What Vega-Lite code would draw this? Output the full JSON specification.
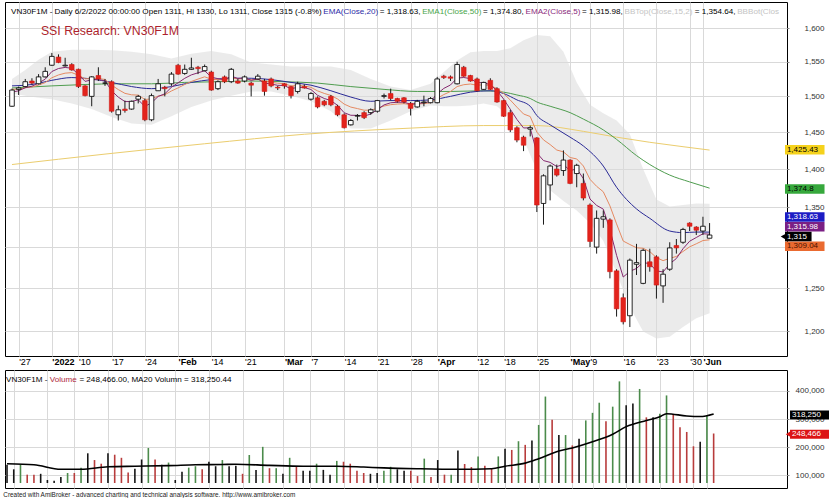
{
"$schema": "https://vega.github.io/schema/vega-lite/v6.json",
"usermeta": {"embedOptions": {"actions": false}},
"background": "#ffffff",
"padding": {"left": 3, "top": 1, "right": 0, "bottom": 0},
"config": {
  "font": "Liberation Sans",
  "view": {"stroke": "#000000", "strokeWidth": 1},
  "axis": {"labelFont": "Liberation Sans", "gridColor": "#d9d9d9", "gridWidth": 1, "labelOverlap": false, "title": null},
  "text": {"font": "Liberation Sans"}
},
"title": {"text": "Created with AmiBroker - advanced charting and technical analysis software. http://www.amibroker.com", "orient": "bottom", "anchor": "start", "fontSize": 6.4, "fontWeight": "normal", "font": "Liberation Sans", "color": "#222222", "offset": 3},
"spacing": 0,
"datasets": {
  "px": [
{"i":-1,"d":"2021-12-24","o":1486,"h":1511,"l":1485,"c":1509,"v":137000,"t":"flat","e5":1506,"e10":1510},
{"i":0,"d":"2021-12-27","o":1510,"h":1514,"l":1502,"c":1512,"v":121000,"t":"flat","e5":1508,"e10":1510.4},
{"i":1,"d":"2021-12-28","o":1514,"h":1525,"l":1513,"c":1521,"v":137000,"t":"up","e5":1512.3,"e10":1512.3},
{"i":2,"d":"2021-12-29","o":1522,"h":1526,"l":1517,"c":1519,"v":102000,"t":"down","e5":1514.6,"e10":1513.5},
{"i":3,"d":"2021-12-30","o":1518,"h":1532,"l":1517,"c":1528,"v":102000,"t":"down","e5":1519.1,"e10":1516.1},
{"i":4,"d":"2021-12-31","o":1528,"h":1542,"l":1527,"c":1536,"v":105000,"t":"flat","e5":1524.7,"e10":1519.7},
{"i":5,"d":"2022-01-04","o":1545,"h":1563,"l":1544,"c":1558,"v":83000,"t":"flat","e5":1535.8,"e10":1526.7},
{"i":6,"d":"2022-01-05","o":1557,"h":1561,"l":1548,"c":1549,"v":80000,"t":"flat","e5":1540.2,"e10":1530.8},
{"i":7,"d":"2022-01-06","o":1544,"h":1556,"l":1543,"c":1545,"v":94000,"t":"flat","e5":1541.8,"e10":1533.4},
{"i":8,"d":"2022-01-07","o":1546,"h":1548,"l":1537,"c":1538,"v":108000,"t":"up","e5":1540.5,"e10":1534.2},
{"i":9,"d":"2022-01-10","o":1539,"h":1540,"l":1512,"c":1514,"v":108000,"t":"down","e5":1531.7,"e10":1530.5},
{"i":10,"d":"2022-01-11","o":1515,"h":1516,"l":1500,"c":1501,"v":127000,"t":"up","e5":1521.5,"e10":1525.1},
{"i":11,"d":"2022-01-12","o":1500,"h":1529,"l":1486,"c":1528,"v":178000,"t":"flat","e5":1523.7,"e10":1525.6},
{"i":12,"d":"2022-01-13","o":1530,"h":1542,"l":1522,"c":1525,"v":154000,"t":"down","e5":1524.1,"e10":1525.5},
{"i":13,"d":"2022-01-14","o":1519,"h":1525,"l":1515,"c":1519,"v":141000,"t":"down","e5":1522.4,"e10":1524.3},
{"i":14,"d":"2022-01-17","o":1521,"h":1523,"l":1477,"c":1479,"v":178000,"t":"flat","e5":1507.9,"e10":1516.1},
{"i":15,"d":"2022-01-18","o":1474,"h":1487,"l":1466,"c":1481,"v":173000,"t":"down","e5":1498.9,"e10":1509.7},
{"i":16,"d":"2022-01-19","o":1482,"h":1494,"l":1477,"c":1480,"v":162000,"t":"down","e5":1492.6,"e10":1504.3},
{"i":17,"d":"2022-01-20","o":1482,"h":1494,"l":1481,"c":1493,"v":110000,"t":"down","e5":1492.7,"e10":1502.2},
{"i":18,"d":"2022-01-21","o":1496,"h":1502,"l":1490,"c":1500,"v":123000,"t":"flat","e5":1495.1,"e10":1501.8},
{"i":19,"d":"2022-01-24","o":1494,"h":1497,"l":1465,"c":1467,"v":156000,"t":"flat","e5":1485.7,"e10":1495.5},
{"i":20,"d":"2022-01-25","o":1467,"h":1504,"l":1465,"c":1501,"v":197000,"t":"up","e5":1490.8,"e10":1496.5},
{"i":21,"d":"2022-01-26","o":1508,"h":1525,"l":1508,"c":1518,"v":156000,"t":"down","e5":1499.9,"e10":1500.4},
{"i":22,"d":"2022-01-27","o":1513,"h":1515,"l":1500,"c":1511,"v":137000,"t":"flat","e5":1503.6,"e10":1502.3},
{"i":23,"d":"2022-01-28","o":1518,"h":1535,"l":1515,"c":1532,"v":145000,"t":"up","e5":1513.1,"e10":1507.7},
{"i":24,"d":"2022-02-07","o":1545,"h":1547,"l":1531,"c":1532,"v":83000,"t":"flat","e5":1519.4,"e10":1512.1},
{"i":25,"d":"2022-02-08","o":1533,"h":1546,"l":1531,"c":1539,"v":112000,"t":"flat","e5":1525.9,"e10":1517},
{"i":26,"d":"2022-02-09","o":1539,"h":1556,"l":1538,"c":1541,"v":127000,"t":"up","e5":1530.9,"e10":1521.4},
{"i":27,"d":"2022-02-10","o":1542,"h":1544,"l":1532,"c":1540,"v":132000,"t":"up","e5":1533.9,"e10":1524.8},
{"i":28,"d":"2022-02-11","o":1537,"h":1546,"l":1536,"c":1543,"v":121000,"t":"down","e5":1536.9,"e10":1528.1},
{"i":29,"d":"2022-02-14","o":1535,"h":1537,"l":1508,"c":1509,"v":148000,"t":"flat","e5":1527.6,"e10":1524.6},
{"i":30,"d":"2022-02-15","o":1511,"h":1523,"l":1509,"c":1521,"v":132000,"t":"flat","e5":1525.4,"e10":1524},
{"i":31,"d":"2022-02-16","o":1528,"h":1530,"l":1519,"c":1521,"v":154000,"t":"up","e5":1523.9,"e10":1523.5},
{"i":32,"d":"2022-02-17","o":1521,"h":1541,"l":1519,"c":1539,"v":132000,"t":"flat","e5":1529,"e10":1526.3},
{"i":33,"d":"2022-02-18","o":1522,"h":1525,"l":1518,"c":1519,"v":134000,"t":"flat","e5":1525.7,"e10":1525},
{"i":34,"d":"2022-02-21","o":1522,"h":1530,"l":1520,"c":1528,"v":105000,"t":"down","e5":1526.5,"e10":1525.5},
{"i":35,"d":"2022-02-22","o":1519,"h":1521,"l":1500,"c":1516,"v":172000,"t":"up","e5":1523,"e10":1523.8},
{"i":36,"d":"2022-02-23","o":1525,"h":1532,"l":1524,"c":1529,"v":119000,"t":"flat","e5":1525,"e10":1524.7},
{"i":37,"d":"2022-02-24","o":1522,"h":1525,"l":1501,"c":1507,"v":201000,"t":"up","e5":1519,"e10":1521.5},
{"i":38,"d":"2022-02-25","o":1525,"h":1527,"l":1513,"c":1515,"v":125000,"t":"down","e5":1517.7,"e10":1520.3},
{"i":39,"d":"2022-02-28","o":1513,"h":1515,"l":1509,"c":1512,"v":125000,"t":"up","e5":1515.8,"e10":1518.8},
{"i":40,"d":"2022-03-01","o":1518,"h":1519,"l":1511,"c":1515,"v":105000,"t":"flat","e5":1515.5,"e10":1518.1},
{"i":41,"d":"2022-03-02","o":1514,"h":1515,"l":1497,"c":1501,"v":162000,"t":"up","e5":1510.7,"e10":1515},
{"i":42,"d":"2022-03-03","o":1507,"h":1521,"l":1504,"c":1518,"v":130000,"t":"down","e5":1513.1,"e10":1515.5},
{"i":43,"d":"2022-03-04","o":1514,"h":1517,"l":1511,"c":1512,"v":116000,"t":"flat","e5":1512.7,"e10":1514.9},
{"i":44,"d":"2022-03-07","o":1496,"h":1506,"l":1494,"c":1504,"v":116000,"t":"flat","e5":1509.8,"e10":1512.9},
{"i":45,"d":"2022-03-08","o":1498,"h":1500,"l":1483,"c":1485,"v":141000,"t":"up","e5":1501.5,"e10":1507.8},
{"i":46,"d":"2022-03-09","o":1493,"h":1495,"l":1486,"c":1488,"v":119000,"t":"flat","e5":1497,"e10":1504.2},
{"i":47,"d":"2022-03-10","o":1500,"h":1502,"l":1486,"c":1488,"v":102000,"t":"flat","e5":1494,"e10":1501.3},
{"i":48,"d":"2022-03-11","o":1486,"h":1488,"l":1472,"c":1474,"v":151000,"t":"up","e5":1487.3,"e10":1496.3},
{"i":49,"d":"2022-03-14","o":1474,"h":1476,"l":1455,"c":1456,"v":148000,"t":"down","e5":1476.9,"e10":1489},
{"i":50,"d":"2022-03-15","o":1460,"h":1468,"l":1459,"c":1466,"v":141000,"t":"down","e5":1473.3,"e10":1484.8},
{"i":51,"d":"2022-03-16","o":1472,"h":1475,"l":1466,"c":1473,"v":116000,"t":"down","e5":1473.2,"e10":1482.7},
{"i":52,"d":"2022-03-17","o":1477,"h":1479,"l":1468,"c":1470,"v":108000,"t":"down","e5":1472.1,"e10":1480.4},
{"i":53,"d":"2022-03-18","o":1477,"h":1483,"l":1474,"c":1481,"v":105000,"t":"flat","e5":1475.1,"e10":1480.5},
{"i":54,"d":"2022-03-21","o":1479,"h":1495,"l":1477,"c":1494,"v":108000,"t":"flat","e5":1481.4,"e10":1483},
{"i":55,"d":"2022-03-22","o":1500,"h":1504,"l":1497,"c":1501,"v":116000,"t":"up","e5":1487.9,"e10":1486.3},
{"i":56,"d":"2022-03-23","o":1504,"h":1511,"l":1494,"c":1497,"v":130000,"t":"up","e5":1490.9,"e10":1488.2},
{"i":57,"d":"2022-03-24","o":1497,"h":1498,"l":1491,"c":1493,"v":121000,"t":"flat","e5":1491.6,"e10":1489.1},
{"i":58,"d":"2022-03-25","o":1498,"h":1499,"l":1490,"c":1492,"v":116000,"t":"flat","e5":1491.7,"e10":1489.6},
{"i":59,"d":"2022-03-28","o":1490,"h":1492,"l":1473,"c":1483,"v":116000,"t":"down","e5":1488.8,"e10":1488.4},
{"i":60,"d":"2022-03-29","o":1485,"h":1495,"l":1484,"c":1493,"v":97000,"t":"down","e5":1490.2,"e10":1489.2},
{"i":61,"d":"2022-03-30","o":1491,"h":1501,"l":1486,"c":1492,"v":159000,"t":"up","e5":1490.8,"e10":1489.7},
{"i":62,"d":"2022-03-31","o":1491,"h":1499,"l":1490,"c":1497,"v":94000,"t":"down","e5":1492.9,"e10":1491},
{"i":63,"d":"2022-04-01","o":1491,"h":1528,"l":1490,"c":1525,"v":154000,"t":"flat","e5":1503.6,"e10":1497.2},
{"i":64,"d":"2022-04-04","o":1529,"h":1531,"l":1525,"c":1527,"v":102000,"t":"down","e5":1511.4,"e10":1502.6},
{"i":65,"d":"2022-04-05","o":1528,"h":1530,"l":1522,"c":1526,"v":102000,"t":"up","e5":1516.3,"e10":1506.9},
{"i":66,"d":"2022-04-06","o":1518,"h":1550,"l":1517,"c":1546,"v":188000,"t":"flat","e5":1526.2,"e10":1514},
{"i":67,"d":"2022-04-07","o":1542,"h":1544,"l":1528,"c":1529,"v":140000,"t":"down","e5":1527.1,"e10":1516.7},
{"i":68,"d":"2022-04-08","o":1530,"h":1531,"l":1521,"c":1522,"v":129000,"t":"down","e5":1525.4,"e10":1517.7},
{"i":69,"d":"2022-04-12","o":1525,"h":1527,"l":1507,"c":1508,"v":167000,"t":"up","e5":1519.6,"e10":1515.9},
{"i":70,"d":"2022-04-13","o":1510,"h":1521,"l":1509,"c":1520,"v":134000,"t":"down","e5":1519.7,"e10":1516.7},
{"i":71,"d":"2022-04-14","o":1523,"h":1526,"l":1509,"c":1510,"v":123000,"t":"down","e5":1516.5,"e10":1515.5},
{"i":72,"d":"2022-04-15","o":1511,"h":1513,"l":1491,"c":1492,"v":167000,"t":"up","e5":1508.3,"e10":1511.2},
{"i":73,"d":"2022-04-18","o":1494,"h":1495,"l":1471,"c":1472,"v":194000,"t":"flat","e5":1496.2,"e10":1504.1},
{"i":74,"d":"2022-04-19","o":1477,"h":1481,"l":1450,"c":1453,"v":190000,"t":"down","e5":1481.8,"e10":1494.8},
{"i":75,"d":"2022-04-20","o":1456,"h":1458,"l":1436,"c":1439,"v":221000,"t":"up","e5":1467.5,"e10":1484.7},
{"i":76,"d":"2022-04-21","o":1443,"h":1445,"l":1424,"c":1432,"v":208000,"t":"down","e5":1455.7,"e10":1475.1},
{"i":77,"d":"2022-04-22","o":1454,"h":1459,"l":1444,"c":1456,"v":224000,"t":"flat","e5":1455.8,"e10":1471.6},
{"i":78,"d":"2022-04-25","o":1442,"h":1443,"l":1344,"c":1353,"v":279000,"t":"up","e5":1421.5,"e10":1450},
{"i":79,"d":"2022-04-26","o":1355,"h":1393,"l":1328,"c":1391,"v":380000,"t":"up","e5":1411.3,"e10":1439.3},
{"i":80,"d":"2022-04-27","o":1379,"h":1406,"l":1359,"c":1404,"v":297000,"t":"down","e5":1408.9,"e10":1432.9},
{"i":81,"d":"2022-04-28","o":1400,"h":1406,"l":1390,"c":1392,"v":243000,"t":"flat","e5":1403.3,"e10":1425.5},
{"i":82,"d":"2022-04-29","o":1398,"h":1425,"l":1391,"c":1412,"v":243000,"t":"up","e5":1406.2,"e10":1423},
{"i":83,"d":"2022-05-04","o":1412,"h":1413,"l":1380,"c":1381,"v":206000,"t":"down","e5":1397.8,"e10":1415.4},
{"i":84,"d":"2022-05-05","o":1394,"h":1407,"l":1376,"c":1405,"v":230000,"t":"flat","e5":1400.2,"e10":1413.5},
{"i":85,"d":"2022-05-06","o":1381,"h":1394,"l":1359,"c":1362,"v":295000,"t":"up","e5":1387.5,"e10":1404.1},
{"i":86,"d":"2022-05-09","o":1353,"h":1355,"l":1300,"c":1307,"v":322000,"t":"up","e5":1360.7,"e10":1386.4},
{"i":87,"d":"2022-05-10","o":1300,"h":1346,"l":1292,"c":1336,"v":358000,"t":"up","e5":1352.5,"e10":1377.2},
{"i":88,"d":"2022-05-11","o":1335,"h":1346,"l":1324,"c":1338,"v":292000,"t":"down","e5":1347.7,"e10":1370.1},
{"i":89,"d":"2022-05-12","o":1334,"h":1336,"l":1262,"c":1270,"v":344000,"t":"up","e5":1321.8,"e10":1351.9},
{"i":90,"d":"2022-05-13","o":1271,"h":1273,"l":1217,"c":1226,"v":434000,"t":"up","e5":1289.9,"e10":1329},
{"i":91,"d":"2022-05-16","o":1239,"h":1244,"l":1208,"c":1211,"v":349000,"t":"flat","e5":1263.6,"e10":1307.5},
{"i":92,"d":"2022-05-17","o":1218,"h":1286,"l":1205,"c":1284,"v":355000,"t":"flat","e5":1270.4,"e10":1303.2},
{"i":93,"d":"2022-05-18","o":1279,"h":1304,"l":1266,"c":1281,"v":407000,"t":"up","e5":1273.9,"e10":1299.2},
{"i":94,"d":"2022-05-19","o":1256,"h":1298,"l":1255,"c":1296,"v":306000,"t":"down","e5":1281.3,"e10":1298.6},
{"i":95,"d":"2022-05-20","o":1282,"h":1298,"l":1270,"c":1276,"v":306000,"t":"flat","e5":1279.5,"e10":1294.5},
{"i":96,"d":"2022-05-23","o":1288,"h":1290,"l":1238,"c":1254,"v":319000,"t":"up","e5":1271,"e10":1287.1},
{"i":97,"d":"2022-05-24","o":1253,"h":1273,"l":1233,"c":1267,"v":384000,"t":"up","e5":1269.7,"e10":1283.4},
{"i":98,"d":"2022-05-25","o":1273,"h":1306,"l":1271,"c":1299,"v":317000,"t":"down","e5":1279.5,"e10":1286.2},
{"i":99,"d":"2022-05-26","o":1302,"h":1310,"l":1292,"c":1299,"v":271000,"t":"down","e5":1286,"e10":1288.5},
{"i":100,"d":"2022-05-27","o":1306,"h":1324,"l":1304,"c":1322,"v":254000,"t":"down","e5":1298,"e10":1294.6},
{"i":101,"d":"2022-05-30","o":1330,"h":1331,"l":1320,"c":1326,"v":203000,"t":"down","e5":1307.3,"e10":1300.3},
{"i":102,"d":"2022-05-31","o":1325,"h":1326,"l":1315,"c":1321,"v":219000,"t":"flat","e5":1311.9,"e10":1304.1},
{"i":103,"d":"2022-06-01","o":1320,"h":1338,"l":1315,"c":1326,"v":311000,"t":"up","e5":1316.6,"e10":1308.1},
{"i":104,"d":"2022-06-02","o":1311,"h":1330,"l":1311,"c":1315,"v":248466,"t":"down","e5":1315.98,"e10":1309.04}
  ],
  "e20": [
{"i":-1,"v":1515},{"i":2,"v":1517},{"i":5,"v":1523},{"i":8,"v":1527},{"i":11,"v":1525},{"i":14,"v":1520},{"i":17,"v":1514},{"i":20,"v":1511},{"i":23,"v":1514},{"i":26,"v":1520},{"i":29,"v":1524},{"i":32,"v":1526},{"i":35,"v":1526},{"i":38,"v":1524},{"i":41,"v":1520},{"i":44,"v":1516},{"i":47,"v":1508},{"i":50,"v":1499},{"i":53,"v":1493},{"i":56,"v":1494},{"i":59,"v":1494},{"i":62,"v":1495},{"i":65,"v":1500},{"i":68,"v":1506},{"i":71,"v":1508},{"i":73,"v":1504},{"i":75,"v":1495},{"i":77,"v":1486},{"i":78,"v":1473},{"i":80,"v":1460},{"i":83,"v":1443},{"i":85,"v":1431},{"i":88,"v":1404},{"i":90,"v":1376},{"i":93,"v":1348},{"i":95,"v":1336},{"i":98,"v":1320},{"i":100,"v":1318},{"i":102,"v":1318.7},{"i":104,"v":1318.63}
  ],
  "e50": [
{"i":-1,"v":1512},{"i":5,"v":1515},{"i":10,"v":1517},{"i":15,"v":1518},{"i":20,"v":1518},{"i":25,"v":1520},{"i":30,"v":1521},{"i":35,"v":1522},{"i":40,"v":1521},{"i":45,"v":1519},{"i":50,"v":1514},{"i":55,"v":1510},{"i":60,"v":1507},{"i":65,"v":1507},{"i":70,"v":1508},{"i":73,"v":1506},{"i":75,"v":1502},{"i":77,"v":1497},{"i":78,"v":1492},{"i":80,"v":1486},{"i":83,"v":1477},{"i":85,"v":1468},{"i":88,"v":1453},{"i":90,"v":1440},{"i":93,"v":1418},{"i":95,"v":1406},{"i":98,"v":1392},{"i":101,"v":1383},{"i":104,"v":1374.8}
  ],
  "ma": [
{"i":-1,"v":1406},{"i":13,"v":1420},{"i":28,"v":1434},{"i":43,"v":1447},{"i":58,"v":1455},{"i":70,"v":1459},{"i":78,"v":1459},{"i":85,"v":1451},{"i":90,"v":1443},{"i":95,"v":1436},{"i":100,"v":1430},{"i":104,"v":1425.43}
  ],
  "band": [
{"i":-1,"top":1525,"bot":1504},{"i":1,"top":1538,"bot":1501},{"i":3,"top":1553,"bot":1498},{"i":5,"top":1565,"bot":1496},{"i":8,"top":1568,"bot":1490},{"i":11,"top":1568,"bot":1482},{"i":14,"top":1567,"bot":1471},{"i":17,"top":1565,"bot":1462},{"i":20,"top":1561,"bot":1460},{"i":23,"top":1555,"bot":1472},{"i":26,"top":1562,"bot":1485},{"i":29,"top":1566,"bot":1494},{"i":32,"top":1561,"bot":1501},{"i":35,"top":1549,"bot":1507},{"i":38,"top":1546,"bot":1507},{"i":41,"top":1543,"bot":1501},{"i":44,"top":1543,"bot":1493},{"i":47,"top":1543,"bot":1479},{"i":50,"top":1538,"bot":1455},{"i":53,"top":1525,"bot":1455},{"i":56,"top":1514,"bot":1466},{"i":59,"top":1509,"bot":1479},{"i":62,"top":1518,"bot":1487},{"i":64,"top":1535,"bot":1486},{"i":66,"top":1552,"bot":1486},{"i":68,"top":1564,"bot":1487},{"i":70,"top":1566,"bot":1490},{"i":72,"top":1566,"bot":1486},{"i":74,"top":1570,"bot":1470},{"i":76,"top":1582,"bot":1440},{"i":78,"top":1590,"bot":1398},{"i":80,"top":1588,"bot":1372},{"i":82,"top":1565,"bot":1358},{"i":84,"top":1520,"bot":1346},{"i":86,"top":1488,"bot":1330},{"i":88,"top":1476,"bot":1308},{"i":90,"top":1466,"bot":1268},{"i":92,"top":1447,"bot":1228},{"i":94,"top":1400,"bot":1200},{"i":96,"top":1360,"bot":1192},{"i":98,"top":1351,"bot":1194},{"i":100,"top":1353,"bot":1205},{"i":102,"top":1355,"bot":1215},{"i":104,"top":1354.64,"bot":1221}
  ],
  "vma": [
{"i":-1,"v":141000},{"i":3,"v":137000},{"i":7,"v":121000},{"i":10,"v":121000},{"i":14,"v":130000},{"i":18,"v":132000},{"i":23,"v":134000},{"i":27,"v":137000},{"i":31,"v":138000},{"i":33,"v":139000},{"i":38,"v":135000},{"i":43,"v":132000},{"i":48,"v":132000},{"i":52,"v":129000},{"i":55,"v":126000},{"i":60,"v":123000},{"i":66,"v":121000},{"i":71,"v":123000},{"i":73,"v":132000},{"i":76,"v":143000},{"i":78,"v":159000},{"i":81,"v":186000},{"i":83,"v":197000},{"i":86,"v":219000},{"i":89,"v":246000},{"i":91,"v":273000},{"i":94,"v":295000},{"i":96,"v":308000},{"i":97,"v":319000},{"i":100,"v":311000},{"i":102,"v":309000},{"i":104,"v":318250.44}
  ],
  "hdr": [
{"i":-1.151,"txt":"VN30F1M - Daily 6/2/2022 00:00:00 Open 1311, Hi 1330, Lo 1311, Close 1315 (-0.8%)","seg":"plain"},
{"i":45.85,"txt":"EMA(Close,20)","seg":"ema20"},
{"i":54.35,"txt":"= 1,318.63,","seg":"plain"},
{"i":60.74,"txt":"EMA1(Close,50)","seg":"ema50"},
{"i":69.9,"txt":"= 1,374.80,","seg":"plain"},
{"i":76.3,"txt":"EMA2(Close,5)","seg":"ema5"},
{"i":84.8,"txt":"= 1,315.98,","seg":"plain"},
{"i":91.19,"txt":"BBTop(Close,15,2)","seg":"bb"},
{"i":101.77,"txt":"= 1,354.64,","seg":"plain"},
{"i":108.16,"txt":"BBBot(Clos","seg":"bb"}
  ],
  "brand": [{"i":3.35,"txt":"SSI Research: VN30F1M"}],
  "tags": [
{"k":"ma","txt":"1,425.43","at":1425.8},
{"k":"ema50","txt":"1,374.8","at":1373.6},
{"k":"ema20","txt":"1,318.63","at":1337.6},
{"k":"ema5","txt":"1,315.98","at":1325.3},
{"k":"last","txt":"1,315","at":1313.1},
{"k":"ema10","txt":"1,309.04","at":1301.1}
  ],
  "vhdr": [
{"i":-1.151,"txt":"VN30F1M -","seg":"plain"},
{"i":5.342,"txt":"Volume","seg":"vol"},
{"i":9.755,"txt":"= 248,466.00, MA20 Volumn = 318,250.44","seg":"plain"}
  ],
  "vtags": [
{"k":"ma","txt":"318,250","at":314000},
{"k":"last","txt":"248,466","at":245900}
  ]
},
"vconcat": [
{
  "width": 782, "height": 354,
  "resolve": {"scale": {"color": "independent", "fill": "independent"}, "axis": {"x": "independent", "y": "independent"}},
  "layer": [
    {"data": {"name": "band"}, "mark": {"type": "area", "color": "#dadada", "opacity": 0.55},
     "encoding": {
       "x": {"field": "i", "type": "quantitative", "scale": {"domain": [-1.3, 114.9], "nice": false, "zero": false},
         "axis": {"orient": "bottom", "values": [0,5,9,14,19,24,29,34,40,44,49,54,59,63,69,73,78,83,86,91,96,101,103],
           "labelExpr": "[\"'27\",\"'2022\",\"'10\",\"'17\",\"'24\",\"'Feb\",\"'14\",\"'21\",\"'Mar\",\"'7\",\"'14\",\"'21\",\"'28\",\"'Apr\",\"'12\",\"'18\",\"'25\",\"'May\",\"'9\",\"'16\",\"'23\",\"'30\",\"'Jun\"][indexof([0,5,9,14,19,24,29,34,40,44,49,54,59,63,69,73,78,83,86,91,96,101,103], datum.value)]",
           "labelAlign": "left", "labelBaseline": "top", "labelPadding": 1, "labelFontSize": 9, "labelColor": "#000000",
           "labelFontWeight": {"condition": {"test": "indexof([5,24,40,63,83,103], datum.value) >= 0", "value": "bold"}, "value": "normal"},
           "ticks": false, "domain": false, "grid": true, "title": null, "labelOverlap": false, "labelFlush": false, "labelBound": false,
           "minExtent": 12, "maxExtent": 12}},
       "y": {"field": "top", "type": "quantitative", "scale": {"type": "log", "domain": [1177.9, 1632.8], "nice": false},
         "axis": {"orient": "right", "values": [1200,1250,1300,1350,1400,1450,1500,1550,1600],
           "labelExpr": "datum.value == 1300 ? '' : format(datum.value, ',')",
           "labelAlign": "right", "labelBaseline": "middle", "labelPadding": 35, "tickSize": 2, "tickColor": "#8c8c8c",
           "labelFontSize": 8, "labelColor": "#333333", "grid": true, "domain": false, "title": null, "labelOverlap": false}},
       "y2": {"field": "bot"}}},
    {"data": {"name": "ma"}, "mark": {"type": "line", "color": "#ebcd6e", "strokeWidth": 1, "interpolate": "monotone"},
     "encoding": {"x": {"field": "i", "type": "quantitative", "axis": null},
       "y": {"field": "v", "type": "quantitative", "axis": null}}},
    {"data": {"name": "e50"}, "mark": {"type": "line", "color": "#4f9d4f", "strokeWidth": 1, "interpolate": "monotone"},
     "encoding": {"x": {"field": "i", "type": "quantitative", "axis": null},
       "y": {"field": "v", "type": "quantitative", "axis": null}}},
    {"data": {"name": "e20"}, "mark": {"type": "line", "color": "#2a2a96", "strokeWidth": 1, "interpolate": "monotone"},
     "encoding": {"x": {"field": "i", "type": "quantitative", "axis": null},
       "y": {"field": "v", "type": "quantitative", "axis": null}}},
    {"data": {"name": "px"}, "mark": {"type": "line", "color": "#e58a62", "strokeWidth": 1},
     "encoding": {"x": {"field": "i", "type": "quantitative", "axis": null},
       "y": {"field": "e10", "type": "quantitative", "axis": null}}},
    {"data": {"name": "px"}, "mark": {"type": "line", "color": "#86296f", "strokeWidth": 1},
     "encoding": {"x": {"field": "i", "type": "quantitative", "axis": null},
       "y": {"field": "e5", "type": "quantitative", "axis": null}}},
    {"data": {"name": "px"}, "mark": {"type": "rule", "color": "#1a1a1a", "strokeWidth": 1},
     "encoding": {"x": {"field": "i", "type": "quantitative", "axis": null},
       "y": {"field": "l", "type": "quantitative", "axis": null},
       "y2": {"field": "h"}}},
    {"data": {"name": "px"}, "transform": [{"filter": "datum.c >= datum.o"}],
     "mark": {"type": "bar", "orient": "vertical", "size": 4.6, "fill": "#ffffff", "stroke": "#111111", "strokeWidth": 0.9},
     "encoding": {"x": {"field": "i", "type": "quantitative", "axis": null},
       "y": {"field": "o", "type": "quantitative", "axis": null},
       "y2": {"field": "c"}}},
    {"data": {"name": "px"}, "transform": [{"filter": "datum.c < datum.o"}],
     "mark": {"type": "bar", "orient": "vertical", "size": 4.6, "fill": "#e3231c", "stroke": "#d11a14", "strokeWidth": 0.6},
     "encoding": {"x": {"field": "i", "type": "quantitative", "axis": null},
       "y": {"field": "o", "type": "quantitative", "axis": null},
       "y2": {"field": "c"}}},
    {"data": {"name": "hdr"}, "mark": {"type": "text", "align": "left", "baseline": "alphabetic", "fontSize": 8.1},
     "encoding": {"x": {"field": "i", "type": "quantitative", "axis": null},
       "y": {"datum": 1621.5, "type": "quantitative", "axis": null},
       "text": {"field": "txt"},
       "color": {"field": "seg", "type": "nominal", "scale": {"domain": ["plain","ema20","ema50","ema5","bb"], "range": ["#000000","#2b2ba6","#4aa64a","#8a2a7c","#c4c4c4"]}, "legend": null}}},
    {"data": {"name": "brand"}, "mark": {"type": "text", "align": "left", "baseline": "alphabetic", "fontSize": 12.3, "color": "#ad1f2d"},
     "encoding": {"x": {"field": "i", "type": "quantitative", "axis": null},
       "y": {"datum": 1590.7, "type": "quantitative", "axis": null},
       "text": {"field": "txt"}}},
    {"data": {"name": "tags"}, "transform": [{"filter": "datum.k != 'last'"}],
     "mark": {"type": "bar", "orient": "horizontal", "size": 9.5},
     "encoding": {"x": {"datum": 115.35, "type": "quantitative", "axis": null},
       "x2": {"datum": 121.3},
       "y": {"field": "at", "type": "quantitative", "axis": null},
       "fill": {"field": "k", "type": "nominal", "scale": {"domain": ["ma","ema50","ema20","ema5","ema10"], "range": ["#f5d21c","#36a83c","#1c1cc4","#7a1f84","#ea6a30"]}, "legend": null}}},
    {"data": {"name": "tags"}, "transform": [{"filter": "datum.k == 'last'"}],
     "mark": {"type": "bar", "orient": "horizontal", "size": 9.5, "fill": "#000000"},
     "encoding": {"x": {"datum": 115.35, "type": "quantitative", "axis": null},
       "x2": {"datum": 119.35},
       "y": {"field": "at", "type": "quantitative", "axis": null}}},
    {"data": {"name": "tags"}, "transform": [{"filter": "datum.k == 'last'"}],
     "mark": {"type": "point", "shape": "triangle-left", "filled": true, "size": 28, "color": "#000000", "opacity": 1},
     "encoding": {"x": {"datum": 115.05, "type": "quantitative", "axis": null},
       "y": {"field": "at", "type": "quantitative", "axis": null}}},
    {"data": {"name": "tags"}, "mark": {"type": "text", "align": "left", "baseline": "middle", "fontSize": 8},
     "encoding": {"x": {"datum": 115.64, "type": "quantitative", "axis": null},
       "y": {"field": "at", "type": "quantitative", "axis": null},
       "text": {"field": "txt"},
       "color": {"field": "k", "type": "nominal", "scale": {"domain": ["ma","ema50","ema20","ema5","last","ema10"], "range": ["#000000","#000000","#ffffff","#ffffff","#ffffff","#4a1200"]}, "legend": null}}}
  ]
},
{
  "width": 782, "height": 118,
  "resolve": {"scale": {"color": "independent", "fill": "independent"}, "axis": {"x": "independent", "y": "independent"}},
  "layer": [
    {"data": {"name": "px"}, "mark": {"type": "rule", "strokeWidth": 1.6},
     "encoding": {
       "x": {"field": "i", "type": "quantitative", "scale": {"domain": [-1.3, 114.9], "nice": false, "zero": false},
         "axis": {"orient": "bottom", "values": [0,5,9,14,19,24,29,34,40,44,49,54,59,63,69,73,78,83,86,91,96,101,103],
           "labels": false, "ticks": false, "domain": false, "grid": true, "title": null, "minExtent": 0, "maxExtent": 0}},
       "y": {"field": "v", "type": "quantitative", "scale": {"domain": [72300, 456700], "nice": false, "zero": false},
         "axis": {"orient": "right", "values": [100000,200000,300000,400000],
           "labelExpr": "format(datum.value, ',')",
           "labelAlign": "right", "labelBaseline": "middle", "labelPadding": 35, "tickSize": 2, "tickColor": "#8c8c8c",
           "labelFontSize": 8, "labelColor": "#333333", "grid": true, "domain": false, "title": null, "labelOverlap": false}},
       "y2": {"datum": 72300},
       "color": {"field": "t", "type": "nominal", "scale": {"domain": ["up","down","flat"], "range": ["#4b8b4b","#b83c3c","#151515"]}, "legend": null}}},
    {"data": {"name": "vma"}, "mark": {"type": "line", "color": "#000000", "strokeWidth": 1.6, "interpolate": "monotone"},
     "encoding": {"x": {"field": "i", "type": "quantitative", "axis": null},
       "y": {"field": "v", "type": "quantitative", "axis": null}}},
    {"data": {"name": "vhdr"}, "mark": {"type": "text", "align": "left", "baseline": "alphabetic", "fontSize": 8.1},
     "encoding": {"x": {"field": "i", "type": "quantitative", "axis": null},
       "y": {"datum": 432000, "type": "quantitative", "axis": null},
       "text": {"field": "txt"},
       "color": {"field": "seg", "type": "nominal", "scale": {"domain": ["plain","vol"], "range": ["#000000","#b0283c"]}, "legend": null}}},
    {"data": {"name": "vtags"}, "mark": {"type": "bar", "orient": "horizontal", "size": 9},
     "encoding": {"x": {"datum": 115.35, "type": "quantitative", "axis": null},
       "x2": {"datum": 121.3},
       "y": {"field": "at", "type": "quantitative", "axis": null},
       "fill": {"field": "k", "type": "nominal", "scale": {"domain": ["ma","last"], "range": ["#000000","#dc1414"]}, "legend": null}}},
    {"data": {"name": "vtags"}, "transform": [{"filter": "datum.k == 'last'"}],
     "mark": {"type": "point", "shape": "triangle-left", "filled": true, "size": 28, "color": "#dc1414", "opacity": 1},
     "encoding": {"x": {"datum": 115.05, "type": "quantitative", "axis": null},
       "y": {"field": "at", "type": "quantitative", "axis": null}}},
    {"data": {"name": "vtags"}, "mark": {"type": "text", "align": "left", "baseline": "middle", "fontSize": 8, "color": "#ffffff"},
     "encoding": {"x": {"datum": 115.64, "type": "quantitative", "axis": null},
       "y": {"field": "at", "type": "quantitative", "axis": null},
       "text": {"field": "txt"}}}
  ]
}
]
}
